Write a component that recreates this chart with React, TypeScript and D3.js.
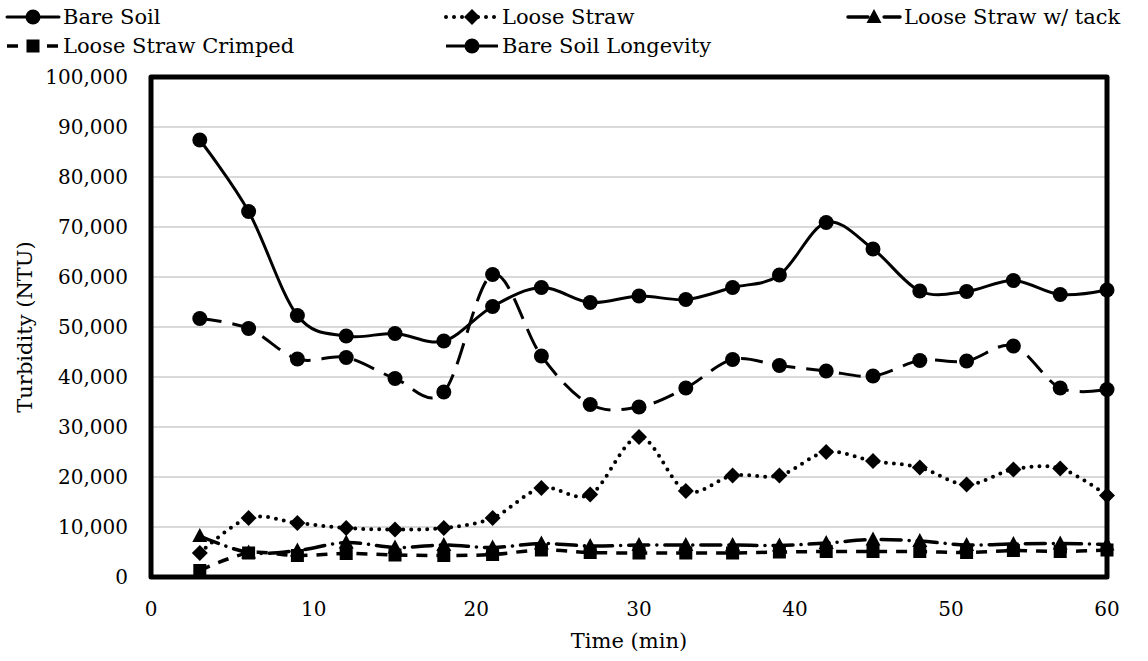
import React from "react";
import * as d3 from "d3";

const timeMin = [3, 6, 9, 12, 15, 18, 21, 24, 27, 30, 33, 36, 39, 42, 45, 48, 51, 54, 57, 60];
const bareSoil = [87400, 73100, 52300, 48200, 48700, 47200, 54100, 57900, 54900, 56200, 55500, 57900, 60400, 70900, 65600, 57200, 57100, 59300, 56500, 57400];
const looseStraw = [4800, 11800, 10800, 9800, 9500, 9800, 11800, 17800, 16500, 28000, 17200, 20300, 20300, 25000, 23200, 21900, 18500, 21500, 21700, 16300];
const looseStrawTack = [8200, 4900, 5300, 6900, 5900, 6400, 5900, 6700, 6200, 6400, 6400, 6400, 6300, 6800, 7500, 7200, 6400, 6600, 6700, 6500];
const looseStrawCrimped = [1300, 4800, 4300, 4700, 4400, 4300, 4500, 5400, 4900, 4800, 4800, 4800, 5000, 5100, 5100, 5100, 4900, 5300, 5100, 5400];
const bareSoilLongevity = [51700, 49700, 43600, 43900, 39700, 37000, 60500, 44200, 34500, 34000, 37800, 43500, 42300, 41200, 40200, 43300, 43200, 46200, 37800, 37500];

const xTicks = [0, 10, 20, 30, 40, 50, 60];
const yTicks = [0, 10000, 20000, 30000, 40000, 50000, 60000, 70000, 80000, 90000, 100000];

const seriesNames = ["Bare Soil", "Loose Straw", "Loose Straw w/ tack", "Loose Straw Crimped", "Bare Soil Longevity"];
const seriesValues = [bareSoil, looseStraw, looseStrawTack, looseStrawCrimped, bareSoilLongevity];

type Style = { dash: string; width: number; cap: "round" | "butt"; marker: string; legendDash: string };
const styles: Style[] = [
  { dash: "", width: 3, cap: "round", marker: "circle", legendDash: "" },
  { dash: "0 8", width: 4, cap: "round", marker: "diamond", legendDash: "0 8" },
  { dash: "20 8 0.1 8", width: 3.5, cap: "round", marker: "triangle", legendDash: "20 8 0.1 8" },
  { dash: "11 9", width: 3.5, cap: "butt", marker: "square", legendDash: "11 9" },
  { dash: "22 11", width: 3, cap: "butt", marker: "circle", legendDash: "" },
];

const FONT = "'DejaVu Serif', serif";

function Marker({ kind, x, y }: { kind: string; x: number; y: number }) {
  if (kind === "circle") return <circle cx={x} cy={y} r={7.5} fill="#000" />;
  if (kind === "diamond")
    return <path d={`M${x},${y - 8}L${x + 8},${y}L${x},${y + 8}L${x - 8},${y}Z`} fill="#000" />;
  if (kind === "square") return <rect x={x - 6.5} y={y - 6.5} width={13} height={13} fill="#000" />;
  return <path d={`M${x},${y - 8}L${x + 7.5},${y + 6}L${x - 7.5},${y + 6}Z`} fill="#000" />;
}

export default function App() {
  const W = 1148;
  const H = 661;
  const left = 151, right = 1107, top = 77, bottom = 577;
  const x = d3.scaleLinear().domain([0, 30, 60]).range([left, 639, right]);
  const y = d3.scaleLinear().domain([0, 100000]).range([bottom, top]);
  const fmt = d3.format(",");

  const line = d3
    .line<[number, number]>()
    .x((d) => x(d[0]))
    .y((d) => y(d[1]))
    .curve(d3.curveCatmullRom.alpha(0));

  const legendItems = [
    { i: 0, lx: 5, ly: 17 },
    { i: 1, lx: 444, ly: 17 },
    { i: 2, lx: 846, ly: 17 },
    { i: 3, lx: 5, ly: 46 },
    { i: 4, lx: 444, ly: 46 },
  ];

  return (
    <svg width={W} height={H} style={{ display: "block", position: "absolute", left: 0, top: 0 }} fontFamily={FONT}>
      <rect x={0} y={0} width={W} height={H} fill="#fff" />
      {yTicks.filter((t) => t > 0 && t < 100000).map((t) => (
        <line key={t} x1={left} x2={right} y1={y(t)} y2={y(t)} stroke="#d9d9d9" strokeWidth={2} />
      ))}
      {seriesValues.map((vals, si) => {
        const pts = timeMin.map((t, k) => [t, vals[k]] as [number, number]);
        const st = styles[si];
        return (
          <g key={si}>
            <path
              d={line(pts) || ""}
              fill="none"
              stroke="#000"
              strokeWidth={st.width}
              strokeDasharray={st.dash || undefined}
              strokeLinecap={st.cap}
              strokeLinejoin="round"
            />
            {pts.map((p, k) => (
              <Marker key={k} kind={st.marker} x={x(p[0])} y={y(p[1])} />
            ))}
          </g>
        );
      })}
      <rect x={left} y={top} width={right - left} height={bottom - top} fill="none" stroke="#000" strokeWidth={5} strokeLinejoin="round" />
      {yTicks.map((t) => (
        <text key={t} x={128} y={y(t)} dy="0.35em" textAnchor="end" fontSize={20} fill="#000">
          {fmt(t)}
        </text>
      ))}
      {xTicks.map((t) => (
        <text key={t} x={x(t)} y={609} dy="0.35em" textAnchor="middle" fontSize={20} fill="#000">
          {t}
        </text>
      ))}
      <text x={(left + right) / 2} y={641} dy="0.35em" textAnchor="middle" fontSize={21} fill="#000">
        Time (min)
      </text>
      <text transform={`translate(25,${(top + bottom) / 2}) rotate(-90)`} dy="0.35em" textAnchor="middle" fontSize={21} fill="#000">
        Turbidity (NTU)
      </text>
      {legendItems.map(({ i, lx, ly }) => {
        const st = styles[i];
        return (
          <g key={i}>
            <line
              x1={lx + 2}
              x2={lx + 54}
              y1={ly}
              y2={ly}
              stroke="#000"
              strokeWidth={st.width}
              strokeDasharray={st.legendDash || undefined}
              strokeLinecap={st.cap}
            />
            <Marker kind={st.marker} x={lx + 28} y={ly} />
            <text x={lx + 58} y={ly} dy="0.35em" fontSize={21} fill="#000">
              {seriesNames[i]}
            </text>
          </g>
        );
      })}
    </svg>
  );
}
